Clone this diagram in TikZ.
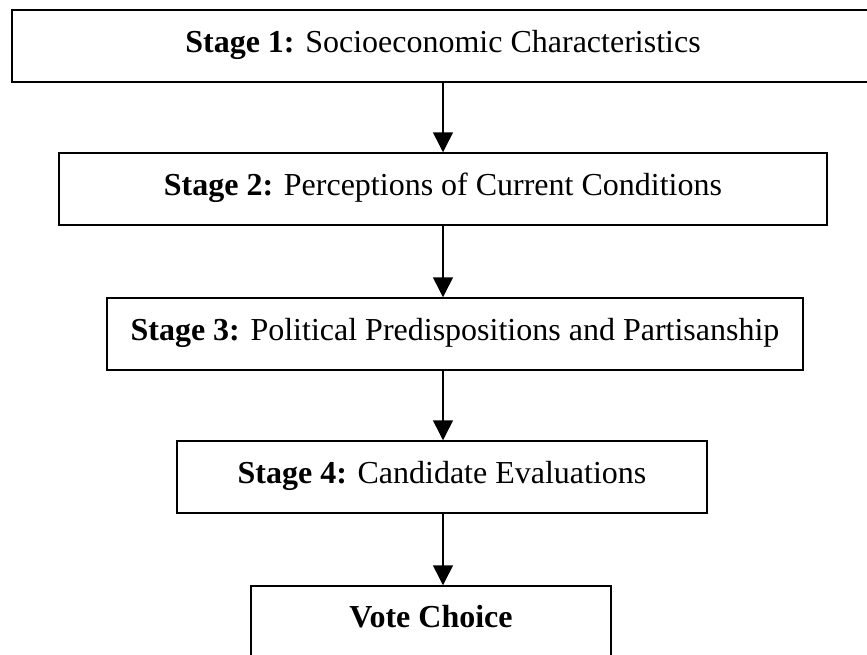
\documentclass[tikz,border=0pt]{standalone}
\usepackage{fontspec}
\setmainfont{Liberation Serif}
\usetikzlibrary{arrows.meta}
\tikzset{
  stagebox/.style={draw=black, line width=1.5pt, rectangle, inner xsep=0pt, inner ysep=0pt,
    text height=42pt, text depth=30pt, anchor=base, align=center,
    font=\fontsize{32}{37}\selectfont},
  arr/.style={line width=1.5pt, -{Triangle[width=20pt,length=20pt]}}
}
\begin{document}
\begin{tikzpicture}[x=1pt,y=-1pt]
\useasboundingbox (0,0) rectangle (867,654);
\clip (0,0) rectangle (867,654);
\node[stagebox, minimum width=886pt] (b1) at (455,52) {\hspace*{-24pt}\textbf{Stage 1:} Socioeconomic Characteristics};
\node[stagebox, minimum width=768pt] (b2) at (443,195) {\textbf{Stage 2:} Perceptions of Current Conditions};
\node[stagebox, minimum width=696pt] (b3) at (455,340) {\textbf{Stage 3:} Political Predispositions and Partisanship};
\node[stagebox, minimum width=530pt] (b4) at (442,483) {\textbf{Stage 4:} Candidate Evaluations};
\node[stagebox, minimum width=360pt, text height=41pt, text depth=40pt] (b5) at (431,627) {\textbf{Vote Choice}};
\coordinate (ax) at (443,0);
\draw[arr] (b1.south -| ax) -- (b2.north -| ax);
\draw[arr] (b2.south -| ax) -- (b3.north -| ax);
\draw[arr] (b3.south -| ax) -- (b4.north -| ax);
\draw[arr] (b4.south -| ax) -- (b5.north -| ax);
\end{tikzpicture}
\end{document}
